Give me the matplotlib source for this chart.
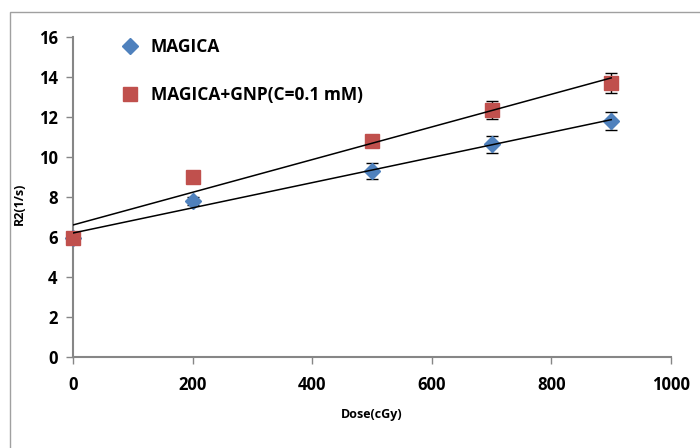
import numpy as np
import matplotlib
matplotlib.use("Agg")
import matplotlib.pyplot as plt
from matplotlib.lines import Line2D

dose = [0, 200, 500, 700, 900]
magica = [5.95, 7.8, 9.3, 10.63, 11.8]
magica_err = [0.0, 0.2, 0.4, 0.42, 0.47]
gnp = [5.95, 9.0, 10.8, 12.35, 13.7]
gnp_err = [0.0, 0.15, 0.3, 0.45, 0.5]

BLUE = "#4F81BD"
RED = "#C0504D"
GRAY = "#868686"

plt.rcParams["font.family"] = ["Open Sans", "DejaVu Sans"]
plt.rcParams["font.weight"] = "bold"

fig = plt.figure(figsize=(7, 4.48), dpi=100)
ax = fig.add_axes([0.1043, 0.2031, 0.8543, 0.7143])

# outer chart border (left and top visible)
fig.add_artist(plt.Rectangle((10 / 700, -0.1), 1.2, 1 - 12 / 448 + 0.1,
                             transform=fig.transFigure, fill=False,
                             edgecolor="#A0A0A0", lw=1.0))

x = np.array(dose, dtype=float)
for y, err, color, marker, ms in [(magica, magica_err, BLUE, "D", 8.5),
                                  (gnp, gnp_err, RED, "s", 10)]:
    ax.errorbar(x, y, yerr=err, fmt="none", ecolor="black", elinewidth=1,
                capsize=4, capthick=1, zorder=2)
    ax.plot(x, y, linestyle="none", marker=marker, markersize=ms,
            markerfacecolor=color, markeredgecolor=color, zorder=3,
            clip_on=False)
    k, b = np.polyfit(x, y, 1)
    ax.plot([0, 900], [b, b + k * 900], color="black", lw=1.1, zorder=4)

ax.set_xlim(0, 1000)
ax.set_ylim(0, 16)
ax.set_xticks(range(0, 1001, 200))
ax.set_yticks(range(0, 17, 2))
for s in ["top", "right"]:
    ax.spines[s].set_visible(False)
for s in ["left", "bottom"]:
    ax.spines[s].set_color(GRAY)
    ax.spines[s].set_linewidth(1.5)
ax.tick_params(axis="both", direction="out", length=5, color=GRAY,
               width=1, labelsize=12)
ax.tick_params(axis="x", pad=9)
ax.tick_params(axis="y", pad=6)
for lab in ax.get_xticklabels() + ax.get_yticklabels():
    lab.set_fontweight("bold")

ax.set_xlabel("Dose(cGy)", fontsize=9, fontweight="bold")
ax.xaxis.set_label_coords(0.5, -0.16)
ax.set_ylabel("R2(1/s)", fontsize=9, fontweight="bold")
ax.yaxis.set_label_coords(-0.078, 0.48)

handles = [Line2D([], [], linestyle="none", marker="D", markersize=8.5,
                  markerfacecolor=BLUE, markeredgecolor=BLUE),
           Line2D([], [], linestyle="none", marker="s", markersize=10,
                  markerfacecolor=RED, markeredgecolor=RED)]
ax.legend(handles, ["MAGICA", "MAGICA+GNP(C=0.1 mM)"], loc="upper left",
          bbox_to_anchor=(0.04, 1.047), frameon=False, labelspacing=1.75,
          handletextpad=0.2, prop={"size": 12.5, "weight": "bold"})

fig.savefig("out.png", dpi=100)
